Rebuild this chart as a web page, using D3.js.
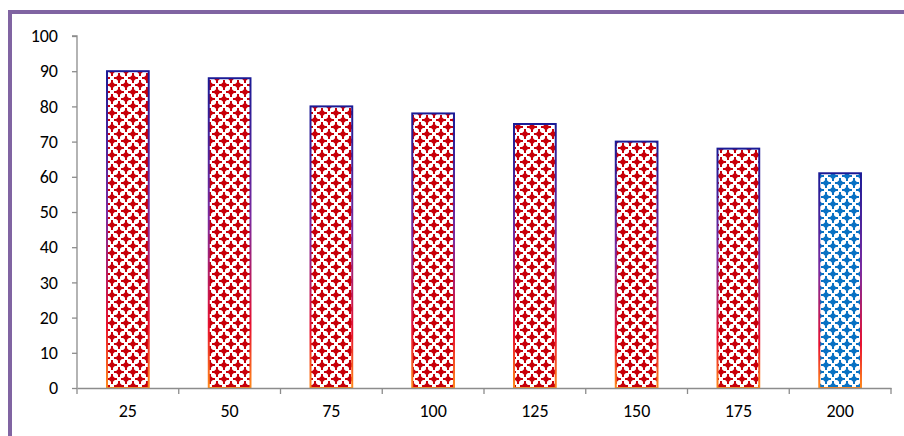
<!DOCTYPE html>
<html>
<head>
<meta charset="utf-8">
<script src="https://cdnjs.cloudflare.com/ajax/libs/d3/7.8.5/d3.min.js"></script>
<style>
  body { margin: 0; background: #fff; }
  svg { display: block; }
</style>
</head>
<body>
<div id="chart"></div>
<script>
// chart data
var categories = ["25", "50", "75", "100", "125", "150", "175", "200"];
var values = [90, 88, 80, 78, 75, 70, 68, 61];
var highlight = ["200"];
var yTicks = [0, 10, 20, 30, 40, 50, 60, 70, 80, 90, 100];

var W = 904, H = 436;
var margin = { top: 36, right: 13, bottom: 48, left: 77 };
var width = W - margin.left - margin.right;
var height = H - margin.top - margin.bottom;

var svg = d3.select("#chart").append("svg")
  .attr("width", W)
  .attr("height", H);

var defs = svg.append("defs");

// diamond pattern fills
function makePattern(id, color) {
  var p = defs.append("pattern")
    .attr("id", id)
    .attr("patternUnits", "userSpaceOnUse")
    .attr("width", 14)
    .attr("height", 14);
  p.append("rect").attr("width", 14).attr("height", 14).attr("fill", "#fff");
  var centers = [[0, 0], [14, 0], [0, 14], [14, 14], [7, 7]];
  centers.forEach(function(c) {
    var r = 3.8;
    p.append("path")
      .attr("d", "M" + c[0] + "," + (c[1] - r) + "L" + (c[0] + r) + "," + c[1] +
        "L" + c[0] + "," + (c[1] + r) + "L" + (c[0] - r) + "," + c[1] + "Z")
      .attr("fill", color);
    // small points on the diamonds, like the office texture
    p.append("rect").attr("x", c[0] - 1).attr("y", c[1] - r - 1.2).attr("width", 2).attr("height", 2 * r + 2.4).attr("fill", color);
    p.append("rect").attr("x", c[0] - r - 1.2).attr("y", c[1] - 1).attr("width", 2 * r + 2.4).attr("height", 2).attr("fill", color);
  });
}
makePattern("redDiamonds", "#c8000a");
makePattern("blueDiamonds", "#0a72c4");

// border gradient: navy at the top, orange at the base
var grad = defs.append("linearGradient")
  .attr("id", "edgeGrad")
  .attr("x1", 0).attr("y1", 0).attr("x2", 0).attr("y2", 1);
grad.append("stop").attr("offset", "0%").attr("stop-color", "#1b1b96");
grad.append("stop").attr("offset", "45%").attr("stop-color", "#7a2aa0");
grad.append("stop").attr("offset", "80%").attr("stop-color", "#e8102e");
grad.append("stop").attr("offset", "100%").attr("stop-color", "#ff8a1a");

// purple frame
svg.append("rect")
  .attr("x", 10).attr("y", 12)
  .attr("width", W + 20).attr("height", H + 20)
  .attr("fill", "none")
  .attr("stroke", "#8064a2")
  .attr("stroke-width", 4);

var plot = svg.append("g")
  .attr("transform", "translate(" + margin.left + "," + margin.top + ")");

var x = d3.scaleBand()
  .domain(categories)
  .range([0, width])
  .paddingInner(0.59)
  .paddingOuter(0.295);

var y = d3.scaleLinear()
  .domain([0, 100])
  .range([height, 0]);

// y axis
var yAxis = d3.axisLeft(y)
  .tickValues(yTicks)
  .tickSize(5)
  .tickPadding(14);

var gy = plot.append("g").attr("class", "yaxis").call(yAxis);

// x axis, ticks sit between categories
var xAxis = d3.axisBottom(x).tickSize(0).tickPadding(16);
var gx = plot.append("g")
  .attr("class", "xaxis")
  .attr("transform", "translate(0," + height + ")")
  .call(xAxis);

var step = x.step();
var bounds = d3.range(categories.length + 1).map(function(i) { return i * step; });
gx.selectAll("line.sep")
  .data(bounds)
  .enter().append("line")
  .attr("class", "sep")
  .attr("x1", function(d) { return d; })
  .attr("x2", function(d) { return d; })
  .attr("y1", 0)
  .attr("y2", 6);

[gx, gy].forEach(function(g) {
  g.attr("font-family", "Carlito, 'Open Sans', 'Noto Sans', sans-serif").attr("font-size", 18);
  g.selectAll("path, line").attr("stroke", "#8c8c8c").attr("stroke-width", 1.3);
  g.selectAll("text").attr("fill", "#000");
});
gy.select("path.domain").attr("d", "M0," + height + "V0H-5");

// bars
plot.selectAll("rect.bar")
  .data(values)
  .enter().append("rect")
  .attr("class", "bar")
  .attr("x", function(d, i) { return x(categories[i]); })
  .attr("y", function(d) { return y(d); })
  .attr("width", x.bandwidth())
  .attr("height", function(d) { return height - y(d); })
  .attr("fill", function(d, i) {
    return highlight.indexOf(categories[i]) >= 0 ? "url(#blueDiamonds)" : "url(#redDiamonds)";
  })
  .attr("stroke", "url(#edgeGrad)")
  .attr("stroke-width", 2);

// keep axis line on top of bar bottoms
gx.raise();
</script>
</body>
</html>
